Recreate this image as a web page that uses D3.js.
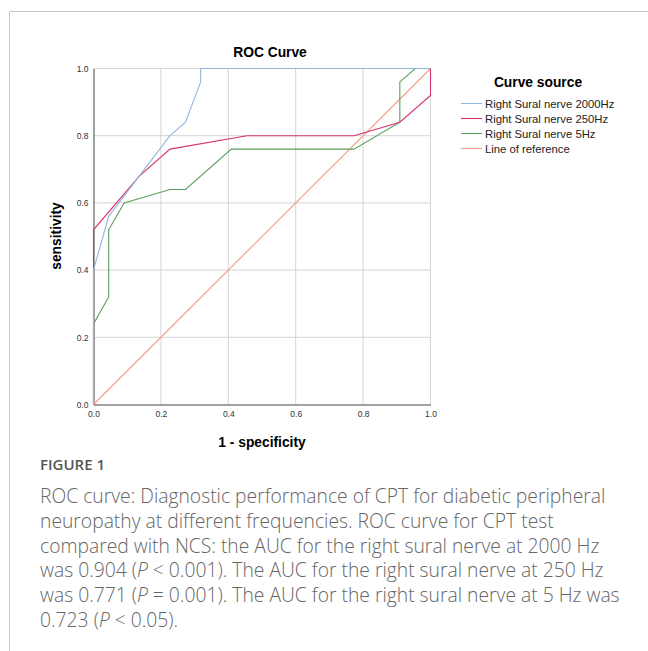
<!DOCTYPE html>
<html>
<head>
<meta charset="utf-8">
<script src="https://cdn.jsdelivr.net/npm/d3@7"></script>
<style>
  body { margin: 0; background: #fff; }
  svg { display: block; }
</style>
</head>
<body>
<svg width="648" height="651"></svg>
<script>
// ROC points (1 - specificity, sensitivity)
const hz2000X = [0, 0, 0.045, 0.227, 0.273, 0.318, 0.318, 1];
const hz2000Y = [0, 0.40, 0.56, 0.80, 0.84, 0.96, 1.0, 1];
const hz250X = [0, 0, 0.136, 0.227, 0.455, 0.773, 0.909, 1, 1];
const hz250Y = [0, 0.52, 0.68, 0.76, 0.80, 0.80, 0.84, 0.92, 1];
const hz5X = [0, 0, 0.045, 0.045, 0.091, 0.227, 0.273, 0.409, 0.773, 0.909, 0.909, 0.955, 1];
const hz5Y = [0, 0.24, 0.32, 0.52, 0.60, 0.64, 0.64, 0.76, 0.76, 0.84, 0.96, 1, 1];
const refX = [0, 1];
const refY = [0, 1];

const seriesNames = ['Right Sural nerve 2000Hz', 'Right Sural nerve 250Hz', 'Right Sural nerve 5Hz', 'Line of reference'];
const seriesColors = ['#93b6df', '#d5336b', '#5a9f5e', '#f39c83'];
const ticks = [0, 0.2, 0.4, 0.6, 0.8, 1.0];

const captionLines = [
  'ROC curve: Diagnostic performance of CPT for diabetic peripheral',
  'neuropathy at different frequencies. ROC curve for CPT test',
  'compared with NCS: the AUC for the right sural nerve at 2000 Hz',
  ['was 0.904 (', 'P', ' < 0.001). The AUC for the right sural nerve at 250 Hz'],
  ['was 0.771 (', 'P', ' = 0.001). The AUC for the right sural nerve at 5 Hz was'],
  ['0.723 (', 'P', ' < 0.05).']
];

const series = [[hz2000X, hz2000Y], [hz250X, hz250Y], [hz5X, hz5Y], [refX, refY]]
  .map((s, i) => ({ name: seriesNames[i], color: seriesColors[i], pts: s[0].map((x, j) => [x, s[1][j]]) }));

const svg = d3.select('svg');
const font = 'Liberation Sans, Arial, sans-serif';

// frame
svg.append('path').attr('d', 'M9.5,651 V11.5 H648').attr('fill', 'none').attr('stroke', '#c8c8c8');

const x = d3.scaleLinear().domain([0, 1]).range([93.5, 430.5]);
const y = d3.scaleLinear().domain([0, 1]).range([404.5, 68.5]);

const g = svg.append('g');

// grid
g.selectAll('.vg').data(ticks.slice(1)).join('line')
  .attr('x1', d => x(d)).attr('x2', d => x(d)).attr('y1', y(0)).attr('y2', y(1))
  .attr('stroke', '#d4d4d4');
g.selectAll('.hg').data(ticks.slice(1)).join('line')
  .attr('y1', d => y(d)).attr('y2', d => y(d)).attr('x1', x(0)).attr('x2', x(1))
  .attr('stroke', '#d4d4d4');

// axes
const xAxis = g.append('g').attr('transform', `translate(0,${y(0)})`)
  .call(d3.axisBottom(x).tickValues(ticks).tickFormat(d3.format('.1f')).tickSize(0).tickPadding(6));
const yAxis = g.append('g').attr('transform', `translate(${x(0)},0)`)
  .call(d3.axisLeft(y).tickValues(ticks).tickFormat(d3.format('.1f')).tickSize(0).tickPadding(5));
[xAxis, yAxis].forEach(a => {
  a.select('.domain').attr('stroke', '#444');
  a.selectAll('text').attr('font-family', font).attr('font-size', 8.5).attr('fill', '#333');
});

// curves
const line = d3.line().x(d => x(d[0])).y(d => y(d[1]));
g.selectAll('.curve').data(series.slice().reverse()).join('path')
  .attr('d', d => line(d.pts))
  .attr('fill', 'none')
  .attr('stroke', d => d.color)
  .attr('stroke-width', 1.1);

// titles
svg.append('text').attr('x', 270).attr('y', 57).attr('text-anchor', 'middle')
  .attr('font-family', font).attr('font-weight', 'bold').attr('font-size', 13.8).text('ROC Curve');
svg.append('text').attr('x', 262).attr('y', 447).attr('text-anchor', 'middle')
  .attr('font-family', font).attr('font-weight', 'bold').attr('font-size', 13.8).text('1 - specificity');
svg.append('text').attr('transform', 'translate(61,236) rotate(-90)').attr('text-anchor', 'middle')
  .attr('font-family', font).attr('font-weight', 'bold').attr('font-size', 13.8).text('sensitivity');

// legend
svg.append('text').attr('x', 538).attr('y', 87).attr('text-anchor', 'middle')
  .attr('font-family', font).attr('font-weight', 'bold').attr('font-size', 13.8).text('Curve source');
const leg = svg.selectAll('.leg').data(series).join('g')
  .attr('transform', (d, i) => `translate(461,${103.5 + i * 15})`);
leg.append('line').attr('x1', 0).attr('x2', 21).attr('stroke', d => d.color).attr('stroke-width', 1.1);
leg.append('text').attr('x', 24).attr('y', 4).attr('font-family', font).attr('font-size', 11.3)
  .attr('fill', '#222').text(d => d.name);

// caption
const capFont = 'Open Sans, Noto Sans, sans-serif';
svg.append('text').attr('x', 40).attr('y', 470).attr('font-family', capFont)
  .attr('font-size', 15).attr('font-weight', 600).attr('fill', '#555').text('FIGURE 1');
const cap = svg.selectAll('.cap').data(captionLines).join('text')
  .attr('x', 40).attr('y', (d, i) => 503 + i * 24.8)
  .attr('font-family', capFont).attr('font-size', 19.3).attr('font-weight', 300).attr('fill', '#666');
cap.each(function (d) {
  const t = d3.select(this);
  if (typeof d === 'string') { t.text(d); return; }
  d.forEach((part, k) => t.append('tspan').attr('font-style', k === 1 ? 'italic' : 'normal').text(part));
});
</script>
</body>
</html>
